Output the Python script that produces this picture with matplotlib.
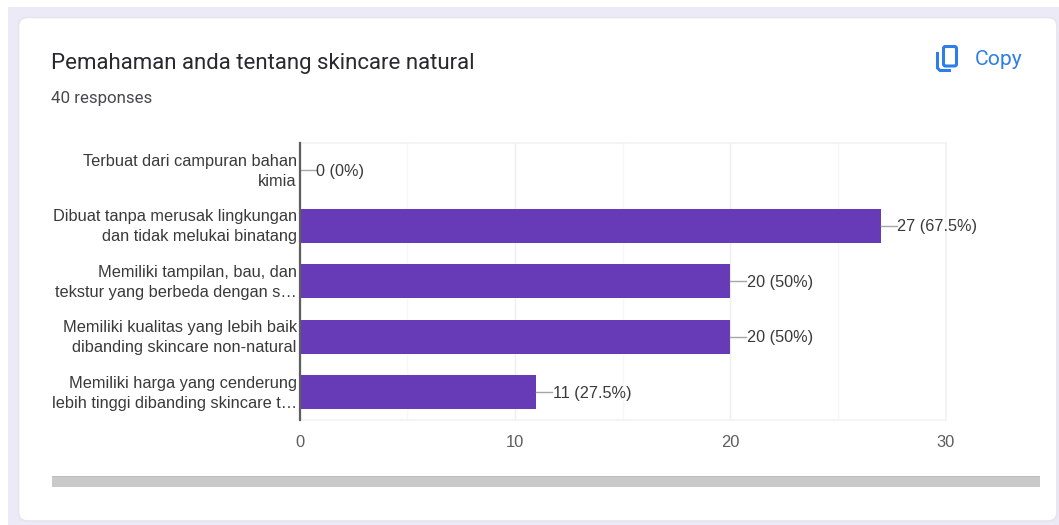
import matplotlib
matplotlib.use("Agg")
import matplotlib.pyplot as plt
from matplotlib.patches import FancyBboxPatch, Rectangle, PathPatch
from matplotlib.path import Path
from matplotlib.transforms import ScaledTranslation

W, H = 1059, 525

categories = [
    "Terbuat dari campuran bahan\nkimia",
    "Dibuat tanpa merusak lingkungan\ndan tidak melukai binatang",
    "Memiliki tampilan, bau, dan\ntekstur yang berbeda dengan s…",
    "Memiliki kualitas yang lebih baik\ndibanding skincare non-natural",
    "Memiliki harga yang cenderung\nlebih tinggi dibanding skincare t…",
]
counts = [0, 27, 20, 20, 11]
percent_labels = ["0%", "67.5%", "50%", "50%", "27.5%"]
major_ticks = [0, 10, 20, 30]
minor_ticks = [5, 15, 25]

TITLE = "Pemahaman anda tentang skincare natural"
SUBTITLE = "40 responses"
PURPLE = "#673AB7"
TEXT = "#3A3A3A"
BLUE = "#2F7DE9"

fig = plt.figure(figsize=(W / 100, H / 100), dpi=100, facecolor="white")

# page backdrop and response card, laid out in pixel units
page = fig.add_axes([0, 0, 1, 1], zorder=0)
page.set_xlim(0, W)
page.set_ylim(H, 0)
page.axis("off")
page.add_patch(Rectangle((8, 7), W - 8, H - 7, facecolor="#EDEAF7", edgecolor="none"))
page.add_patch(FancyBboxPatch((18.5, 17.5), W - 2 - 18.5, 503.5,
                              boxstyle="round,pad=0,rounding_size=9",
                              facecolor="white", edgecolor="#E6E4EE", linewidth=1.2))
page.text(51, 64, TITLE, family="Roboto", fontsize=16.03, color="#2A2A2E", va="center", ha="left")
page.text(51, 98.5, SUBTITLE, family="Roboto", fontsize=12.2, color="#47494D", va="center", ha="left")

# copy icon: back sheet outline and front sheet
icon_back = Path([(951, 70.5), (940, 70.5), (937.5, 68), (937.5, 52)],
                 [Path.MOVETO, Path.LINETO, Path.LINETO, Path.LINETO])
page.add_patch(PathPatch(icon_back, fill=False, edgecolor=BLUE, linewidth=2.2))
page.add_patch(FancyBboxPatch((943.5, 46.5), 13, 19.5, boxstyle="round,pad=0,rounding_size=2",
                              fill=False, edgecolor=BLUE, linewidth=2.2))
page.text(975, 59.5, "Copy", family="Roboto", fontsize=15.2, color=BLUE,
          va="center", ha="left")

# horizontal scroll bar under the chart
page.add_patch(Rectangle((52, 476), 988, 11, facecolor="#C9C9C9", edgecolor="none"))
page.add_patch(Rectangle((52, 476), 988, 1, facecolor="#BDBDBD", edgecolor="none"))

# bar chart
x0, x1, y0, y1 = 299.5, 945.5, 142.5, 420
ax = fig.add_axes([x0 / W, 1 - y1 / H, (x1 - x0) / W, (y1 - y0) / H], zorder=1)
ax.patch.set_alpha(0)
positions = list(range(len(categories)))
ax.barh(positions, counts, height=0.62, color=PURPLE, zorder=3)
ax.set_xlim(0, 30)
ax.set_ylim(len(categories) - 0.5, -0.5)

for side in ("top", "right", "bottom"):
    ax.spines[side].set_color("#F2F2F2")
    ax.spines[side].set_linewidth(1.2)
ax.spines["left"].set_color("#5F5F5F")
ax.spines["left"].set_linewidth(1.6)
ax.spines["left"].set_zorder(5)

ax.set_xticks(major_ticks)
ax.set_xticks(minor_ticks, minor=True)
ax.grid(True, which="major", axis="x", color="#EEEEEE", linewidth=1, zorder=0)
ax.grid(True, which="minor", axis="x", color="#F7F7F7", linewidth=1, zorder=0)
ax.tick_params(axis="both", which="both", length=0)
ax.tick_params(axis="x", pad=10.5, labelsize=11.9, labelcolor="#5E5E5E")
ax.set_xticklabels([str(t) for t in major_ticks], family="Liberation Sans")
ax.set_yticks(positions)
ax.set_yticklabels(categories, family="Liberation Sans", fontsize=11.8, color=TEXT,
                   ha="right", va="center", linespacing=1.45)
ax.tick_params(axis="y", pad=2)

# nudge the category labels down by one pixel
nudge = ScaledTranslation(0, -1 / 100, fig.dpi_scale_trans)
for label in ax.get_yticklabels():
    label.set_transform(label.get_transform() + nudge)

# value annotations with short leader lines
lead = 16 * 30 / (x1 - x0)
for pos, count, pct in zip(positions, counts, percent_labels):
    ax.plot([count, count + lead], [pos, pos], color="#A6A6A6", linewidth=1, zorder=4,
            clip_on=False)
    ax.annotate(f"{count} ({pct})", xy=(count + lead, pos), xytext=(0.5, -1),
                textcoords="offset pixels", family="Liberation Sans",
                fontsize=11.7, color=TEXT, va="center", ha="left", zorder=4)

fig.savefig("out.png", dpi=100, facecolor="white")
